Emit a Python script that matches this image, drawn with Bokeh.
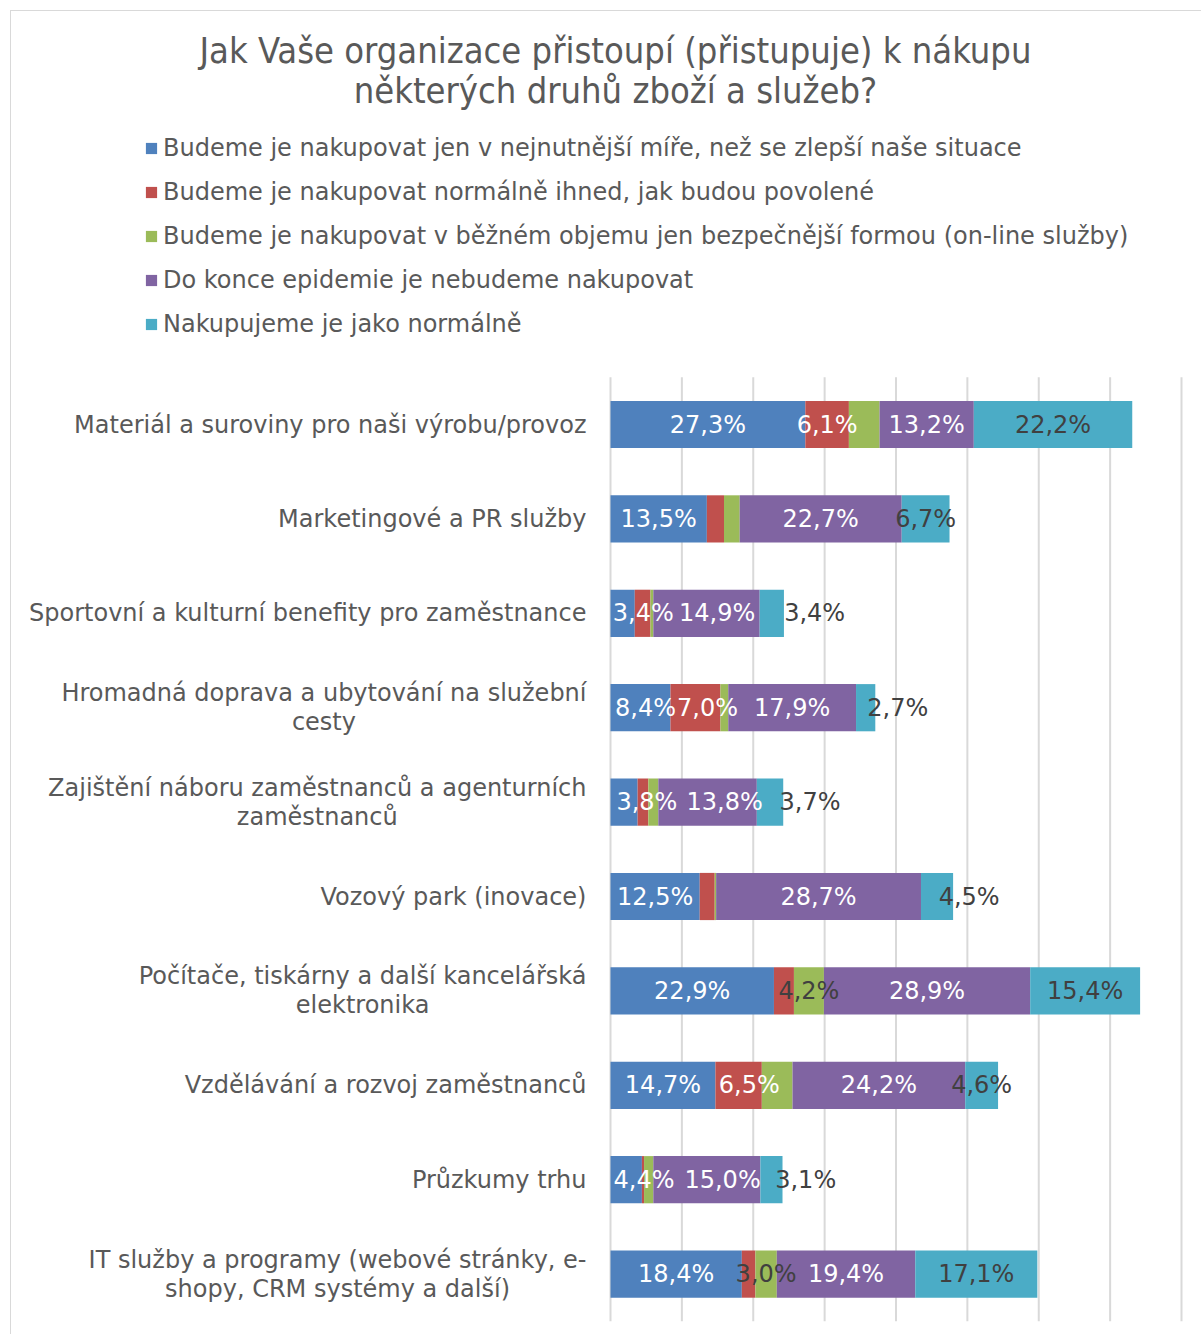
import glob
from bokeh.plotting import figure
from bokeh.models import Range1d, Legend, LegendItem, Label, ColumnDataSource
from bokeh.core.properties import value
from bokeh.embed import file_html
from bokeh.resources import INLINE

# ---------------- data ----------------
title_text = "Jak Vaše organizace přistoupí (přistupuje) k nákupu\nněkterých druhů zboží a služeb?"

categories = [
    "Materiál a suroviny pro naši výrobu/provoz",
    "Marketingové a PR služby",
    "Sportovní a kulturní benefity pro zaměstnance",
    "Hromadná doprava a ubytování na služební\ncesty",
    "Zajištění náboru zaměstnanců a agenturních\nzaměstnanců",
    "Vozový park (inovace)",
    "Počítače, tiskárny a další kancelářská\nelektronika",
    "Vzdělávání a rozvoj zaměstnanců",
    "Průzkumy trhu",
    "IT služby a programy (webové stránky, e-\nshopy, CRM systémy a další)",
]

series_names = [
    "Budeme je nakupovat jen v nejnutnější míře, než se zlepší naše situace",
    "Budeme je nakupovat normálně ihned, jak budou povolené",
    "Budeme je nakupovat v běžném objemu jen bezpečnější formou (on-line služby)",
    "Do konce epidemie je nebudeme nakupovat",
    "Nakupujeme je jako normálně",
]

nejnutnejsi = [27.3, 13.5, 3.4, 8.4, 3.8, 12.5, 22.9, 14.7, 4.4, 18.4]
ihned       = [6.1, 2.4, 2.2, 7.0, 1.5, 2.1, 2.8, 6.5, 0.3, 1.9]
online      = [4.3, 2.2, 0.4, 1.1, 1.4, 0.2, 4.2, 4.3, 1.3, 3.0]
nebudeme    = [13.2, 22.7, 14.9, 17.9, 13.8, 28.7, 28.9, 24.2, 15.0, 19.4]
normalne    = [22.2, 6.7, 3.4, 2.7, 3.7, 4.5, 15.4, 4.6, 3.1, 17.1]

grid_ticks = [0, 10, 20, 30, 40, 50, 60, 70, 80]

# which data labels are displayed (as in the original chart)
label_shown = [
    [True] * 10,
    [True, False, False, True, False, False, False, True, False, False],
    [False, False, False, False, False, False, True, False, False, True],
    [True] * 10,
    [True] * 10,
]

# ---------------- styles / layout ----------------
colors = ["#4f81bd", "#c0504d", "#9bbb59", "#8064a2", "#4bacc6"]
label_colors = ["white", "white", "#404040", "white", "#404040"]
label_nudge = {   # horizontal nudges of some data labels (axis units), as in the original
    (0, 2): 2.9, (3, 2): 1.5, (4, 2): 6.0,
    (0, 3): 0.7, (1, 3): 1.7, (4, 3): 4.5,
    (0, 4): 3.2, (3, 4): 2.4, (4, 4): 5.6,
    (4, 5): 4.5,
    (1, 7): 1.5,
    (0, 8): 2.5, (3, 8): 2.2, (4, 8): 4.8,
}
TXT = "#595959"
FONT = "DejaVu Sans"
FS = 24

W, H = 1191, 1324          # canvas size (canvas starts at page 11,11)
PLOT_LEFT = 599            # px of axis value 0 inside the canvas
PX_PER_UNIT = 571 / 80     # px per percent
BAND = 94.4                # px per category row
FIRST_ROW = 413            # px of first row centre inside the canvas
LABEL_GAP = 24             # px between category labels and plot area


def find_font(fname):
    for pat in ["/usr/share/fonts/**/" + fname, "/usr/local/share/fonts/**/" + fname,
                "/usr/share/**/" + fname]:
        r = glob.glob(pat, recursive=True)
        if r:
            return r[0]
    return None


try:
    from PIL import ImageFont
    _fp = find_font("DejaVuSans.ttf")
    _font = ImageFont.truetype(_fp, FS) if _fp else None
except Exception:
    _font = None


def text_width(s):
    if _font is not None:
        try:
            return _font.getlength(s)
        except Exception:
            pass
    return len(s) * 0.52 * FS


has_condensed = find_font("DejaVuSansCondensed.ttf") is not None
if has_condensed:
    title_font, title_size, title_lh = "DejaVu Sans Condensed", "36px", 0.955
else:
    title_font, title_size, title_lh = "DejaVu Sans", "29px", 1.2

x_start = -PLOT_LEFT / PX_PER_UNIT
x_end = x_start + W / PX_PER_UNIT
y_top = -FIRST_ROW / BAND
y_bottom = (H - FIRST_ROW) / BAND

p = figure(width=W, height=H,
           x_range=Range1d(x_start, x_end), y_range=Range1d(y_bottom, y_top),
           output_backend="svg", toolbar_location=None, title=None,
           x_axis_location=None, y_axis_location=None,
           min_border=0, min_border_left=0, min_border_right=0,
           min_border_top=0, min_border_bottom=0)
p.margin = (10, 0, 0, 10)
p.styles = {"border-left": "1px solid #d9d9d9", "border-top": "1px solid #d9d9d9"}
p.outline_line_color = None
p.xgrid.visible = False
p.ygrid.visible = False
p.background_fill_color = "white"
p.border_fill_color = "white"

rows = list(range(len(categories)))

# vertical gridlines
p.segment(x0=grid_ticks, x1=grid_ticks, y0=[-0.5] * len(grid_ticks),
          y1=[len(categories) - 0.5] * len(grid_ticks),
          line_color="#d9d9d9", line_width=2)

# stacked bars
series = [nejnutnejsi, ihned, online, nebudeme, normalne]
keys = ["s0", "s1", "s2", "s3", "s4"]
data = {"row": rows}
for k, s in zip(keys, series):
    data[k] = s
source = ColumnDataSource(data)
renderers = p.hbar_stack(keys, y="row", height=0.5, color=colors,
                         line_color=None, source=source)

# category labels (block right-aligned, lines centred within the block)
cx_off = [-max(text_width(l) for l in c.split("\n")) / 2 for c in categories]
csrc = ColumnDataSource(dict(x=[-LABEL_GAP / PX_PER_UNIT] * len(categories), y=rows,
                             text=categories, xo=cx_off))
p.text(x="x", y="y", text="text", x_offset="xo", source=csrc,
       text_align="center", text_baseline="middle", text_color=TXT,
       text_font=value(FONT), text_font_size=f"{FS}px", text_line_height=1.03)

# data labels
lx, ly, lt, lc = [], [], [], []
for ci in rows:
    start = 0.0
    for si, s in enumerate(series):
        v = s[ci]
        if label_shown[si][ci]:
            lx.append(start + v / 2 + label_nudge.get((si, ci), 0.0))
            ly.append(ci)
            lt.append(f"{v:.1f}".replace(".", ",") + "%")
            lc.append(label_colors[si])
        start += v
lsrc = ColumnDataSource(dict(x=lx, y=ly, text=lt, color=lc))
p.text(x="x", y="y", text="text", text_color="color", source=lsrc,
       text_align="center", text_baseline="middle",
       text_font=value(FONT), text_font_size=f"{FS}px")

# legend (inside the canvas-wide frame)
items = [LegendItem(label=n, renderers=[r]) for n, r in zip(series_names, renderers)]
legend = Legend(items=items, location=(133, 997), orientation="vertical",
                glyph_width=14, glyph_height=14, label_standoff=5,
                label_height=28, spacing=16, padding=0, margin=0,
                border_line_color=None, background_fill_alpha=0,
                label_text_font=FONT, label_text_font_size=f"{FS}px",
                label_text_color=TXT)
p.add_layout(legend, "center")

# title
title = Label(x=604, y=H - 59, x_units="screen", y_units="screen", text=title_text,
              text_align="center", text_baseline="middle",
              text_font=title_font, text_font_size=title_size,
              text_color=TXT, text_line_height=title_lh)
p.add_layout(title, "center")

open("out.html", "w").write(file_html(p, INLINE))
